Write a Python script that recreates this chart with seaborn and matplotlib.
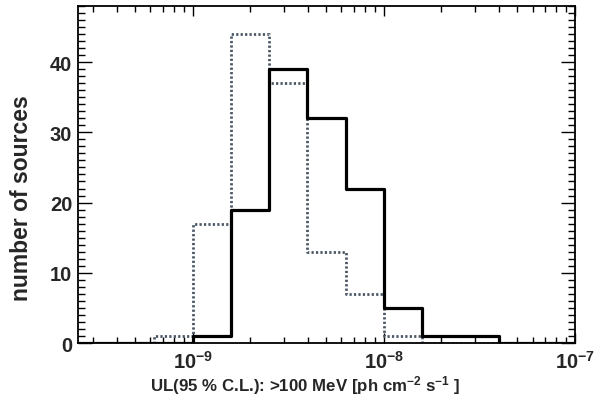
import numpy as np
import pandas as pd
import matplotlib
matplotlib.use("Agg")
import matplotlib.pyplot as plt
from matplotlib.ticker import FixedLocator, MultipleLocator, NullFormatter, FixedFormatter
import seaborn as sns

# bin centres (log10 of UL flux), 0.2 dex bins from 10^-9.6 to 10^-7
log_ul_centres = [-9.5, -9.3, -9.1, -8.9, -8.7, -8.5, -8.3, -8.1, -7.9, -7.7, -7.5, -7.3, -7.1]
counts_solid = [0, 0, 0, 1, 19, 39, 32, 22, 5, 1, 1, 0, 0]
counts_dotted = [0, 0, 1, 17, 44, 37, 13, 7, 1, 0, 0, 0, 0]
x_ticks = [1e-9, 1e-8, 1e-7]
x_ticklabels = [r"$\mathbf{10^{-9}}$", r"$\mathbf{10^{-8}}$", r"$\mathbf{10^{-7}}$"]

df = pd.DataFrame({
    "ul": np.power(10.0, log_ul_centres),
    "solid": counts_solid,
    "dotted": counts_dotted,
})

sns.set_style("ticks")
plt.rcParams['font.family'] = ['Liberation Sans', 'DejaVu Sans']
plt.rcParams['font.weight'] = 'bold'
plt.rcParams['mathtext.fontset'] = 'custom'
plt.rcParams['mathtext.rm'] = 'Liberation Sans:bold'
plt.rcParams['mathtext.bf'] = 'Liberation Sans:bold'
plt.rcParams['mathtext.default'] = 'bf'

fig = plt.figure(figsize=(6.04, 4.02), dpi=100)
ax = fig.add_axes([0.129, 0.144, 0.823, 0.839])

sns.histplot(data=df, x="ul", weights="dotted", bins=13, binrange=(-9.6, -7.0),
             log_scale=True, element="step", fill=False, color="#4a5866",
             linewidth=2.0, linestyle=(0, (0.8, 0.8)), ax=ax)
sns.histplot(data=df, x="ul", weights="solid", bins=13, binrange=(-9.6, -7.0),
             log_scale=True, element="step", fill=False, color="black",
             linewidth=2.3, ax=ax)

ax.set_xlim(10**-9.6, 1e-7)
ax.set_ylim(0, 48)
ax.yaxis.set_major_locator(MultipleLocator(10))
ax.yaxis.set_minor_locator(MultipleLocator(1))
minor_x = [m * 10.0**e for e in (-10, -9, -8) for m in range(2, 10)]
minor_x = [v for v in minor_x if v > 10**-9.6]
ax.xaxis.set_major_locator(FixedLocator(x_ticks))
ax.xaxis.set_major_formatter(FixedFormatter(x_ticklabels))
ax.xaxis.set_minor_locator(FixedLocator(minor_x))
ax.xaxis.set_minor_formatter(NullFormatter())

ax.tick_params(which="both", direction="in", top=True, right=True, width=1.0,
               labelsize=14.5, color="black")
ax.tick_params(axis="y", which="major", length=10, pad=4)
ax.tick_params(axis="y", which="minor", length=5)
ax.tick_params(axis="x", which="major", length=7, pad=5)
ax.tick_params(axis="x", which="minor", length=4.5)
for s in ax.spines.values():
    s.set_linewidth(1.3)
    s.set_color("black")

ax.set_xlabel(r"UL(95 % C.L.): >100 MeV [ph cm$^{-2}$ s$^{-1}$ ]",
              fontsize=12.2, fontweight="bold")
ax.xaxis.set_label_coords(0.457, -0.088)
ax.set_ylabel("number of sources", fontsize=16.5, fontweight="bold")
ax.yaxis.set_label_coords(-0.09, 0.433)

fig.savefig("out.png", dpi=100)
